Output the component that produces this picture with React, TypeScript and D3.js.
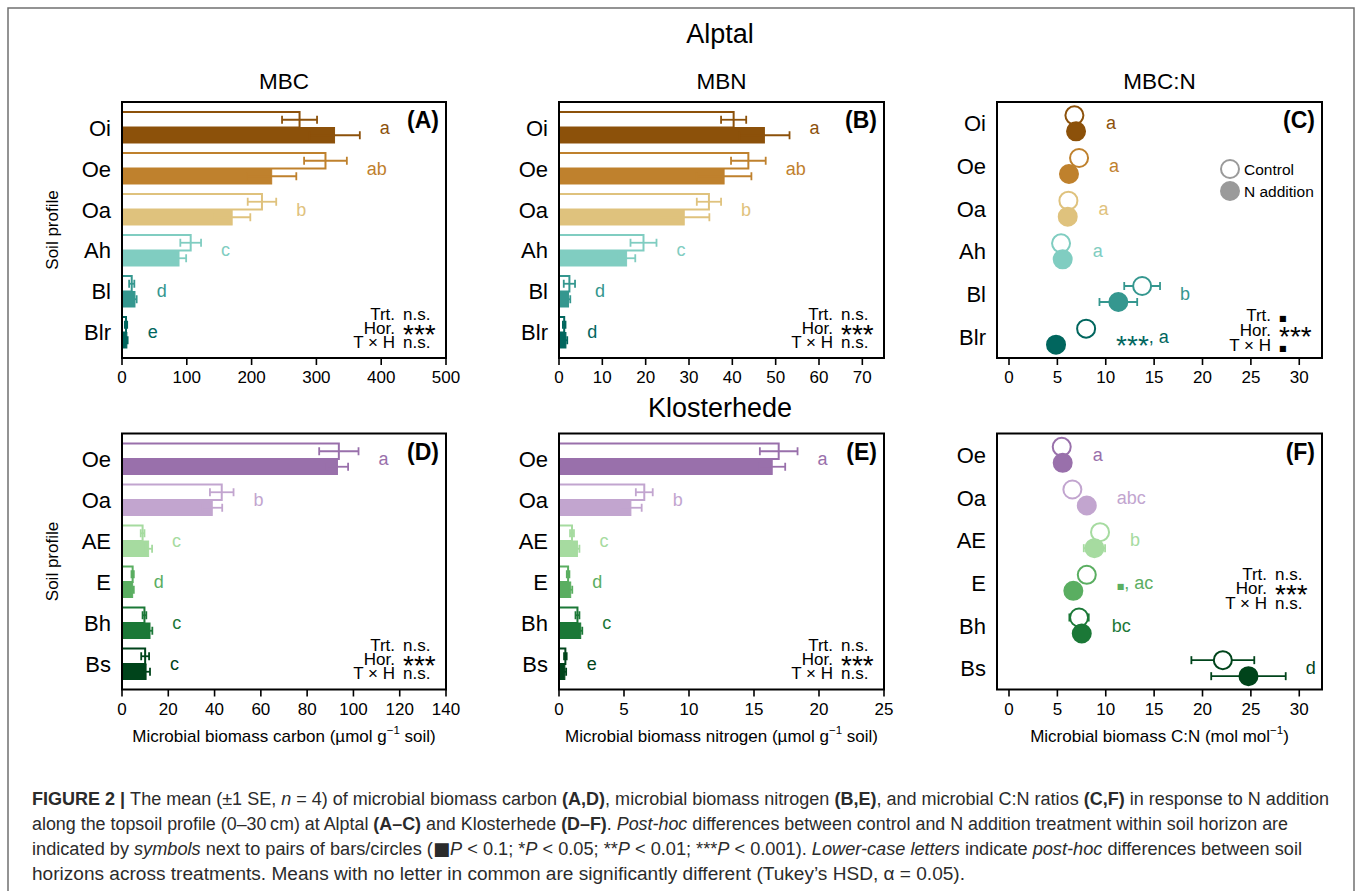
import React from "react";
import * as d3 from "d3";

// soil horizons and colours (BrBG for Alptal, PRGn for Klosterhede)
const alptalHorizons = ["Oi", "Oe", "Oa", "Ah", "Bl", "Blr"];
const klosterHorizons = ["Oe", "Oa", "AE", "E", "Bh", "Bs"];
const alptalColors = ["#8c510a", "#bf812d", "#dfc27d", "#80cdc1", "#35978f", "#01665e"];
const klosterColors = ["#9970ab", "#c2a5cf", "#a6dba0", "#5aae61", "#1b7837", "#00441b"];

// (A) MBC Alptal
const mbcAlptalCtrl = [274, 314, 216, 106, 15, 6.2];
const mbcAlptalCtrlSe = [27, 33, 22, 16, 4, 1.8];
const mbcAlptalN = [328, 231, 170, 88, 20, 7.5];
const mbcAlptalNSe = [39, 38, 28, 11, 2.6, 1.2];
const mbcAlptalLetters = ["a", "ab", "b", "c", "d", "e"];
const mbcAlptalTicks = [0, 100, 200, 300, 400, 500];

// (B) MBN Alptal
const mbnAlptalCtrl = [40.3, 43.7, 34.6, 19.5, 2.4, 1.2];
const mbnAlptalCtrlSe = [2.9, 4.0, 2.8, 3.0, 1.3, 0.3];
const mbnAlptalN = [47.4, 38.1, 28.9, 15.6, 2.2, 1.6];
const mbnAlptalNSe = [5.8, 6.3, 5.8, 2.0, 0.4, 0.3];
const mbnAlptalLetters = ["a", "ab", "b", "c", "d", "d"];
const mbnAlptalTicks = [0, 10, 20, 30, 40, 50, 60, 70];

// (C) MBC:N Alptal
const cnAlptalCtrl = [6.76, 7.24, 6.14, 5.38, 13.76, 7.97];
const cnAlptalCtrlSe = [0.3, 0.4, 0.3, 0.2, 1.85, 0.5];
const cnAlptalN = [6.93, 6.2, 6.07, 5.55, 11.3, 4.86];
const cnAlptalNSe = [0.3, 0.4, 0.3, 0.3, 1.95, 0.3];
const cnAlptalLetters = ["a", "a", "a", "a", "b", "***, a"];
const cnTicks = [0, 5, 10, 15, 20, 25, 30];

// (D) MBC Klosterhede
const mbcKlosterCtrl = [93.7, 43.1, 8.9, 4.6, 9.7, 10.0];
const mbcKlosterCtrlSe = [8.5, 5.1, 0.8, 0.5, 0.8, 1.7];
const mbcKlosterN = [93.1, 39.0, 11.5, 4.6, 12.1, 10.4];
const mbcKlosterNSe = [4.6, 4.3, 1.5, 0.5, 1.0, 1.7];
const mbcKlosterLetters = ["a", "b", "c", "d", "c", "c"];
const mbcKlosterTicks = [0, 20, 40, 60, 80, 100, 120, 140];

// (E) MBN Klosterhede
const mbnKlosterCtrl = [16.9, 6.56, 1.0, 0.7, 1.42, 0.49];
const mbnKlosterCtrlSe = [1.45, 0.65, 0.15, 0.1, 0.15, 0.1];
const mbnKlosterN = [16.4, 5.53, 1.42, 0.9, 1.67, 0.45];
const mbnKlosterNSe = [1.0, 0.83, 0.15, 0.12, 0.12, 0.1];
const mbnKlosterLetters = ["a", "b", "c", "d", "c", "e"];
const mbnKlosterTicks = [0, 5, 10, 15, 20, 25];

// (F) MBC:N Klosterhede
const cnKlosterCtrl = [5.45, 6.55, 9.41, 8.04, 7.24, 22.1];
const cnKlosterCtrlSe = [0.3, 0.4, 0.5, 0.5, 1.0, 3.25];
const cnKlosterN = [5.55, 8.04, 8.83, 6.65, 7.52, 24.75];
const cnKlosterNSe = [0.3, 0.4, 1.1, 0.4, 0.4, 3.85];
const cnKlosterLetters = ["a", "abc", "b", "■, ac", "bc", "d"];

const statLabels = ["Trt.", "Hor.", "T × H"];
const statsNs = ["n.s.", "***", "n.s."];
const statsCnAlptal = ["■", "***", "■"];

const FONT = "'Liberation Sans', Arial, Helvetica, sans-serif";

// text with *** and ■ glyphs nudged to where R put them
function SymText({ x, y, text, fill = "#000", size = 18, anchor = "start", starShift = 10 }: any) {
  const parts = text.split(/(\*\*\*|■)/).filter((p: string) => p.length > 0);
  let shift = 0;
  return (
    <text x={x} y={y} fill={fill} fontSize={size} textAnchor={anchor} fontFamily={FONT}>
      {parts.map((p: string, i: number) => {
        let target = 0;
        let extra: any = {};
        if (p === "***") {
          target = starShift;
          extra = { fontSize: 28 };
        } else if (p === "■") {
          extra = { fontSize: 8, fontFamily: "DejaVu Sans" };
        }
        const dy = target - shift;
        shift = target;
        return (
          <tspan key={i} dy={dy} {...extra}>
            {p}
          </tspan>
        );
      })}
    </text>
  );
}

function Panel(props: any) {
  const { frame, domain, ticks, cats, colors, ctrl, ctrlSe, nadd, naddSe, letters, stats, statsY, statsDx = 0, tag, kind, title, xTitle, yTitle, legend } = props;
  const { x0, x1, y0, y1 } = frame;
  const x = d3.scaleLinear().domain(domain).range([x0, x1]);
  const band = d3.scaleBand().domain(cats).range([y0, y1]).padding(0.244);
  const pts = d3.scalePoint().domain(cats).range([y0, y1]).padding(0.5);
  const half = band.bandwidth() / 2;
  const center = (c: string) => (kind === "bar" ? (band(c) as number) + half : (pts(c) as number));
  const r = 9;
  const cap = 4;

  const errBar = (v: number, se: number, cy: number, col: string, key: string) => (
    <g key={key} stroke={col} strokeWidth={1.8}>
      <line x1={x(v - se)} x2={x(v + se)} y1={cy} y2={cy} />
      <line x1={x(v - se)} x2={x(v - se)} y1={cy - cap} y2={cy + cap} />
      <line x1={x(v + se)} x2={x(v + se)} y1={cy - cap} y2={cy + cap} />
    </g>
  );

  return (
    <g>
      {title && (
        <text x={(x0 + x1) / 2} y={y0 - 13} textAnchor="middle" fontSize={22.5} fontFamily={FONT}>
          {title}
        </text>
      )}
      {cats.map((c: string, i: number) => {
        const col = colors[i];
        const cy = center(c);
        if (kind === "bar") {
          const top = band(c) as number;
          return (
            <g key={c}>
              <rect x={x(0)} y={top} width={x(ctrl[i]) - x(0)} height={half} fill="#fff" stroke={col} strokeWidth={2} />
              {errBar(ctrl[i], ctrlSe[i], top + half / 2, col, "ec")}
              <rect x={x(0)} y={top + half} width={x(nadd[i]) - x(0)} height={half} fill={col} stroke={col} strokeWidth={1} />
              {errBar(nadd[i], naddSe[i], top + half * 1.5, col, "en")}
            </g>
          );
        }
        return (
          <g key={c}>
            {errBar(ctrl[i], ctrlSe[i], cy - 8, col, "ec")}
            <circle cx={x(ctrl[i])} cy={cy - 8} r={r} fill="#fff" stroke={col} strokeWidth={2} />
            {errBar(nadd[i], naddSe[i], cy + 8, col, "en")}
            <circle cx={x(nadd[i])} cy={cy + 8} r={r} fill={col} stroke={col} strokeWidth={2} />
          </g>
        );
      })}
      {cats.map((c: string, i: number) => {
        const cy = center(c);
        const ext =
          kind === "bar"
            ? Math.max(x(ctrl[i] + ctrlSe[i]), x(nadd[i] + naddSe[i]))
            : Math.max(x(ctrl[i]) + r + 1, x(nadd[i]) + r + 1, x(ctrl[i] + ctrlSe[i]), x(nadd[i] + naddSe[i]));
        return (
          <g key={"lab" + c}>
            <text x={x0 - 11} y={cy + 8} textAnchor="end" fontSize={22} fontFamily={FONT}>
              {c}
            </text>
            <SymText x={ext + 20} y={cy + 6} text={letters[i]} fill={colors[i]} size={18} starShift={12} />
          </g>
        );
      })}
      <rect x={x0} y={y0} width={x1 - x0} height={y1 - y0} fill="none" stroke="#000" strokeWidth={2} />
      {ticks.map((t: number) => (
        <g key={"t" + t}>
          <line x1={x(t)} x2={x(t)} y1={y1} y2={y1 + 7} stroke="#000" strokeWidth={1.6} />
          <text x={x(t)} y={y1 + 25} textAnchor="middle" fontSize={17} fontFamily={FONT}>
            {t}
          </text>
        </g>
      ))}
      <text x={x1 - 7} y={y0 + 26} textAnchor="end" fontSize={23} fontWeight="bold" fontFamily={FONT}>
        {tag}
      </text>
      {statLabels.map((s: string, i: number) => (
        <g key={"s" + i}>
          <text x={x1 - 51 + statsDx} y={y1 + statsY[i]} textAnchor="end" fontSize={17} fontFamily={FONT}>
            {s}
          </text>
          <SymText x={x1 - 43 + statsDx} y={y1 + statsY[i]} text={stats[i]} size={17} starShift={10} />
        </g>
      ))}
      {legend && (
        <g fontFamily={FONT} fontSize={15.5}>
          <circle cx={x1 - 92} cy={y0 + 67} r={r} fill="#fff" stroke="#9a9a9a" strokeWidth={2} />
          <circle cx={x1 - 92} cy={y0 + 89} r={r} fill="#9a9a9a" stroke="#9a9a9a" strokeWidth={2} />
          <text x={x1 - 78} y={y0 + 73}>Control</text>
          <text x={x1 - 78} y={y0 + 95}>N addition</text>
        </g>
      )}
      {yTitle && (
        <text
          transform={`translate(52,${(y0 + y1) / 2}) rotate(-90)`}
          textAnchor="middle"
          dominantBaseline="central"
          fontSize={17}
          fontFamily={FONT}
        >
          Soil profile
        </text>
      )}
      {xTitle && (
        <text x={(x0 + x1) / 2} y={y1 + 52} textAnchor="middle" fontSize={17} fontFamily={FONT}>
          {xTitle[0]}
          <tspan fontSize={11.5} dy={-8}>
            −1
          </tspan>
          <tspan dy={8}>{xTitle[1]}</tspan>
        </text>
      )}
    </g>
  );
}

const captionLines: any[] = [
  [
    ["FIGURE 2 | ", "b"], ["The mean (±1 SE, ", ""], ["n", "i"], [" = 4) of microbial biomass carbon ", ""], ["(A,D)", "b"],
    [", microbial biomass nitrogen ", ""], ["(B,E)", "b"], [", and microbial C:N ratios ", ""], ["(C,F)", "b"], [" in response to N addition", ""],
  ],
  [
    ["along the topsoil profile (0–30\u2009cm) at Alptal ", ""], ["(A–C)", "b"], [" and Klosterhede ", ""], ["(D–F)", "b"], [". ", ""],
    ["Post-hoc", "i"], [" differences between control and N addition treatment within soil horizon are", ""],
  ],
  [
    ["indicated by ", ""], ["symbols", "i"], [" next to pairs of bars/circles (", ""], ["■", "sq"], ["P", "i"], [" < 0.1; *", ""], ["P", "i"],
    [" < 0.05; **", ""], ["P", "i"], [" < 0.01; ***", ""], ["P", "i"], [" < 0.001). ", ""], ["Lower-case letters", "i"], [" indicate ", ""],
    ["post-hoc", "i"], [" differences between soil", ""],
  ],
  [["horizons across treatments. Means with no letter in common are significantly different (Tukey’s HSD, α = 0.05).", ""]],
];
const captionWidths = [1297, 1256, 1270, 933];

function Caption() {
  return (
    <g fontFamily={FONT} fontSize={18} fill="#2b2b2b">
      {captionLines.map((line: any[], li: number) => (
        <text key={li} x={32} y={805 + li * 25} textLength={captionWidths[li]} lengthAdjust="spacingAndGlyphs">
          {line.map((seg: any[], si: number) => (
            <tspan
              key={si}
              fontWeight={seg[1] === "b" ? "bold" : undefined}
              fontStyle={seg[1] === "i" ? "italic" : undefined}
              fontFamily={seg[1] === "sq" ? "DejaVu Sans" : undefined}
            >
              {seg[0]}
            </tspan>
          ))}
        </text>
      ))}
    </g>
  );
}

export default function App() {
  const row1 = { y0: 102, y1: 358 };
  const row2 = { y0: 433.5, y1: 689.5 };
  const col1 = { x0: 122, x1: 446 };
  const col2 = { x0: 559, x1: 884 };
  const col3 = { x0: 997, x1: 1322 };
  const cnDomain = [-1.24, 32.35];
  const statsBottom = [-38.5, -24.5, -10.5];
  const statsHigh = [-110, -96, -81];

  return (
    <svg width={1357} height={891} style={{ position: "absolute", left: 0, top: 0 }}>
      <rect width={1357} height={891} fill="#fff" />
      <path d="M8,891V8H1354V891" fill="none" stroke="#707070" strokeWidth={1.5} />
      <text x={720} y={43} textAnchor="middle" fontSize={27} fontFamily={FONT}>
        Alptal
      </text>
      <text x={720} y={417} textAnchor="middle" fontSize={27} fontFamily={FONT}>
        Klosterhede
      </text>

      <Panel
        kind="bar" frame={{ ...col1, ...row1 }} domain={[0, 500]} ticks={mbcAlptalTicks} cats={alptalHorizons} colors={alptalColors}
        ctrl={mbcAlptalCtrl} ctrlSe={mbcAlptalCtrlSe} nadd={mbcAlptalN} naddSe={mbcAlptalNSe} letters={mbcAlptalLetters}
        stats={statsNs} statsY={statsBottom} tag="(A)" title="MBC" yTitle
      />
      <Panel
        kind="bar" frame={{ ...col2, ...row1 }} domain={[0, 75]} ticks={mbnAlptalTicks} cats={alptalHorizons} colors={alptalColors}
        ctrl={mbnAlptalCtrl} ctrlSe={mbnAlptalCtrlSe} nadd={mbnAlptalN} naddSe={mbnAlptalNSe} letters={mbnAlptalLetters}
        stats={statsNs} statsY={statsBottom} tag="(B)" title="MBN"
      />
      <Panel
        kind="dot" frame={{ ...col3, ...row1 }} domain={cnDomain} ticks={cnTicks} cats={alptalHorizons} colors={alptalColors}
        ctrl={cnAlptalCtrl} ctrlSe={cnAlptalCtrlSe} nadd={cnAlptalN} naddSe={cnAlptalNSe} letters={cnAlptalLetters}
        stats={statsCnAlptal} statsY={[-37, -22, -7]} tag="(C)" title="MBC:N" legend
      />
      <Panel
        kind="bar" frame={{ ...col1, ...row2 }} domain={[0, 140]} ticks={mbcKlosterTicks} cats={klosterHorizons} colors={klosterColors}
        ctrl={mbcKlosterCtrl} ctrlSe={mbcKlosterCtrlSe} nadd={mbcKlosterN} naddSe={mbcKlosterNSe} letters={mbcKlosterLetters}
        stats={statsNs} statsY={statsBottom} tag="(D)" yTitle xTitle={["Microbial biomass carbon (µmol g", " soil)"]}
      />
      <Panel
        kind="bar" frame={{ ...col2, ...row2 }} domain={[0, 25]} ticks={mbnKlosterTicks} cats={klosterHorizons} colors={klosterColors}
        ctrl={mbnKlosterCtrl} ctrlSe={mbnKlosterCtrlSe} nadd={mbnKlosterN} naddSe={mbnKlosterNSe} letters={mbnKlosterLetters}
        stats={statsNs} statsY={statsBottom} tag="(E)" xTitle={["Microbial biomass nitrogen (µmol g", " soil)"]}
      />
      <Panel
        kind="dot" frame={{ ...col3, ...row2 }} domain={cnDomain} ticks={cnTicks} cats={klosterHorizons} colors={klosterColors}
        ctrl={cnKlosterCtrl} ctrlSe={cnKlosterCtrlSe} nadd={cnKlosterN} naddSe={cnKlosterNSe} letters={cnKlosterLetters}
        stats={statsNs} statsY={statsHigh} statsDx={-4} tag="(F)" xTitle={["Microbial biomass C:N (mol mol", ")"]}
      />
      <Caption />
    </svg>
  );
}
